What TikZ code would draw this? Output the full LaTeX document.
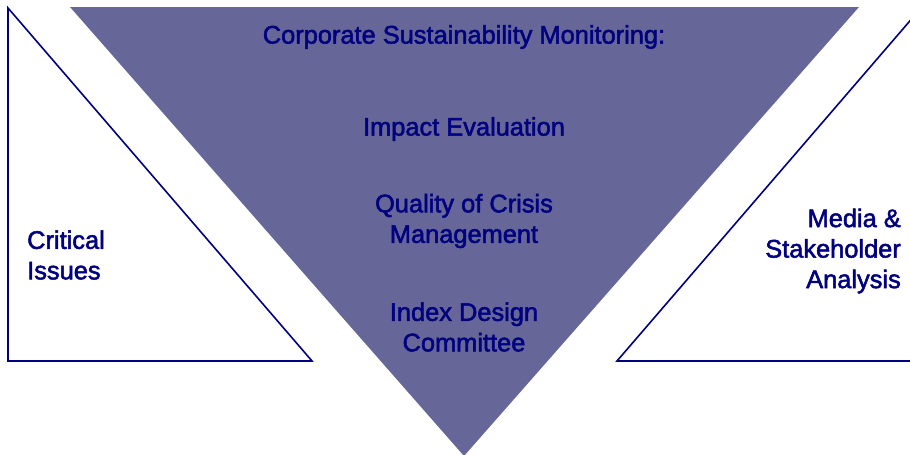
\documentclass[tikz,border=0pt]{standalone}
\usepackage{fontspec}
\setmainfont{Liberation Sans}[FakeBold=2]
\definecolor{navy}{HTML}{000080}
\definecolor{slate}{HTML}{666699}
\begin{document}
\begin{tikzpicture}[x=1pt,y=-1pt,
  lbl/.style={text=navy,font=\fontsize{25.4}{30.5}\selectfont,inner sep=0pt},
  outline/.style={draw=navy,line width=1.6pt,line join=miter}]
\useasboundingbox (0,0) rectangle (910,455);
\clip (0,0) rectangle (910,455);
% big inverted triangle
\fill[slate] (70,7) -- (859,7) -- (464,456) -- cycle;
% left triangle
\draw[outline] (8,8) -- (8,361) -- (312,361) -- cycle;
% right triangle
\draw[outline] (921,8) -- (921,361) -- (617,361) -- cycle;
% texts
\node[lbl] (csm) at (464,37) {Corporate Sustainability Monitoring:};
\node[lbl] (ie) at (464,129) {Impact Evaluation};
\node[lbl,align=center] (qcm) at (464,221) {Quality of Crisis\\Management};
\node[lbl,align=center] (idc) at (464,327) {Index Design\\Committee};
\node[lbl,align=left,anchor=west] (ci) at (27,255) {Critical\\Issues};
\node[lbl,align=right,anchor=east] (msa) at (901,251) {Media \&\\Stakeholder\\Analysis};
\end{tikzpicture}
\end{document}
